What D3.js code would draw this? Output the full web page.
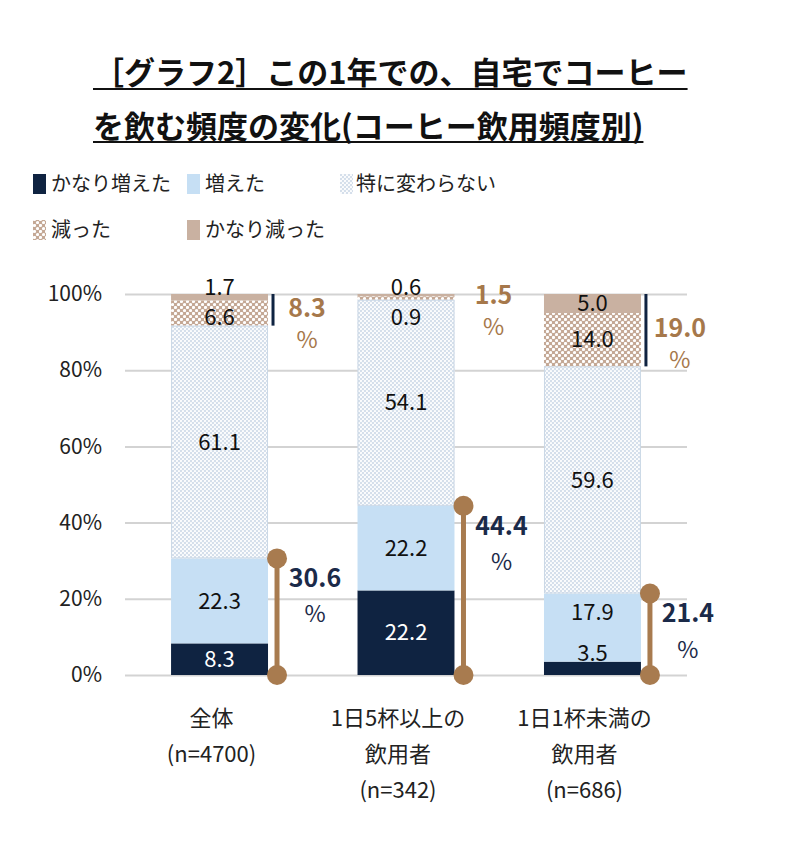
<!DOCTYPE html>
<html lang="ja">
<head>
<meta charset="utf-8">
<script src="https://cdnjs.cloudflare.com/ajax/libs/d3/7.8.5/d3.min.js"></script>
<style>
  body { margin: 0; background: #fff; }
  text { font-family: "Noto Sans CJK JP", "Noto Sans", sans-serif; }
</style>
</head>
<body>
<script>
// ---- data ----
var titleLines = ["［グラフ2］この1年での、自宅でコーヒー", "を飲む頻度の変化(コーヒー飲用頻度別)"]
var categories = ["全体", "1日5杯以上の飲用者", "1日1杯未満の飲用者"]
var categoryLines = [["全体", "(n=4700)"], ["1日5杯以上の", "飲用者", "(n=342)"], ["1日1杯未満の", "飲用者", "(n=686)"]]
var seriesNames = ["かなり増えた", "増えた", "特に変わらない", "減った", "かなり減った"]
var veryIncreased = [8.3, 22.2, 3.5]
var increased = [22.3, 22.2, 17.9]
var noChange = [61.1, 54.1, 59.6]
var decreased = [6.6, 0.9, 14.0]
var veryDecreased = [1.7, 0.6, 5.0]
var increaseTotal = [30.6, 44.4, 21.4]
var decreaseTotal = [8.3, 1.5, 19.0]
var yTicks = [0, 20, 40, 60, 80, 100]

// ---- style ----
var navy = "#0f2341"
var lightBlue = "#c6dff4"
var brown = "#a87b4f"
var brownText = "#a6784b"
var navyText = "#1b2a49"
var gridColor = "#d3d3d3"
var width = 788, height = 852

var table = categories.map((c, i) => ({
  cat: c,
  "かなり増えた": veryIncreased[i],
  "増えた": increased[i],
  "特に変わらない": noChange[i],
  "減った": decreased[i],
  "かなり減った": veryDecreased[i]
}))

var svg = d3.select("body").append("svg")
  .attr("width", width).attr("height", height)

// patterns
var defs = svg.append("defs")
var pNo = defs.append("pattern").attr("id", "pat-nochange")
  .attr("patternUnits", "userSpaceOnUse").attr("width", 4).attr("height", 4)
pNo.append("rect").attr("width", 4).attr("height", 4).attr("fill", "#d5dfeb")
pNo.append("circle").attr("cx", 1).attr("cy", 1).attr("r", 1.1).attr("fill", "#fff")
pNo.append("circle").attr("cx", 3).attr("cy", 3).attr("r", 1.1).attr("fill", "#fff")

var pDec = defs.append("pattern").attr("id", "pat-dec")
  .attr("patternUnits", "userSpaceOnUse").attr("width", 6).attr("height", 6)
pDec.append("rect").attr("width", 6).attr("height", 6).attr("fill", "#c4a895")
pDec.append("circle").attr("cx", 1.5).attr("cy", 1.5).attr("r", 1.6).attr("fill", "#fff")
pDec.append("circle").attr("cx", 4.5).attr("cy", 4.5).attr("r", 1.6).attr("fill", "#fff")

var fills = {
  "かなり増えた": navy,
  "増えた": lightBlue,
  "特に変わらない": "url(#pat-nochange)",
  "減った": "url(#pat-dec)",
  "かなり減った": "#c9b1a1"
}

// ---- title ----
var title = svg.append("g")
titleLines.forEach((t, i) => {
  var txt = title.append("text")
    .attr("x", 93).attr("y", 84 + i * 54)
    .attr("font-size", 31).attr("font-weight", "bold").attr("fill", "#111")
    .text(t)
  var w = txt.node().getComputedTextLength()
  title.append("line")
    .attr("x1", 93).attr("x2", 93 + w)
    .attr("y1", 89 + i * 53).attr("y2", 89 + i * 53)
    .attr("stroke", "#111").attr("stroke-width", 2)
})

// ---- legend ----
var legendPos = [[33, 184], [187, 184], [340, 184], [33, 230], [187, 230]]
var legend = svg.append("g")
seriesNames.forEach((s, i) => {
  var g = legend.append("g").attr("transform", `translate(${legendPos[i][0]},${legendPos[i][1]})`)
  g.append("rect").attr("x", 0).attr("y", -10).attr("width", 13).attr("height", 20)
    .attr("fill", fills[s])
  g.append("text").attr("x", i == 2 ? 16 : 18).attr("y", 0).attr("dy", "0.35em")
    .attr("font-size", 20).attr("fill", "#222").text(s)
})

// ---- scales ----
var y = d3.scaleLinear().domain([0, 100]).range([675, 294])
var x = d3.scaleBand().domain(categories).range([125, 687])
  .paddingInner(0.48).paddingOuter(0.247)

// grid + y axis
svg.append("g").attr("transform", "translate(125,0)")
  .call(d3.axisLeft(y).tickValues(yTicks).tickFormat(d => d + "%")
    .tickSizeInner(-562).tickSizeOuter(0).tickPadding(23))
  .call(g => g.select(".domain").remove())
  .call(g => g.selectAll(".tick line").attr("stroke", gridColor).attr("stroke-width", 2))
  .call(g => g.selectAll(".tick text").attr("font-size", 21).attr("fill", "#222")
    .attr("font-family", "'Noto Sans CJK JP', sans-serif"))

// ---- bars ----
var stack = d3.stack().keys(seriesNames)(table)

svg.append("g").selectAll("g")
  .data(stack).join("g")
  .attr("fill", d => fills[d.key])
  .selectAll("rect")
  .data(d => d).join("rect")
  .attr("x", d => x(d.data.cat))
  .attr("y", d => y(d[1]))
  .attr("width", x.bandwidth())
  .attr("height", d => y(d[0]) - y(d[1]))

// outline of 特に変わらない segments
svg.append("g").selectAll("rect")
  .data(stack[2]).join("rect")
  .attr("x", d => x(d.data.cat) + 0.5)
  .attr("y", d => y(d[1]) + 0.5)
  .attr("width", x.bandwidth() - 1)
  .attr("height", d => y(d[0]) - y(d[1]) - 1)
  .attr("fill", "none").attr("stroke", "#cbd8e6").attr("stroke-width", 1)

// ---- value labels ----
var labels = []
categories.forEach((c, i) => {
  var segs = stack.map(s => ({key: s.key, v: s[i][1] - s[i][0], y0: s[i][0], y1: s[i][1]}))
  var pos = segs.map(s => (y(s.y0) + y(s.y1)) / 2)
  var color = segs.map(s => s.key == "かなり増えた" ? "#fff" : "#111")
  // bottom segment too thin: label above it
  if (y(segs[0].y0) - y(segs[0].y1) < 20) { pos[0] = y(segs[0].y1) - 8; color[0] = "#111" }
  pos[1] = Math.min(pos[1], pos[0] - 41)
  // top segment too thin: label above bar
  if (y(segs[4].y0) - y(segs[4].y1) < 14) pos[4] = y(100) - 7
  pos[3] = Math.max(pos[3], pos[4] + 30)
  segs.forEach((s, k) => labels.push({cat: c, v: s.v, y: pos[k], color: color[k]}))
})

svg.append("g").selectAll("text")
  .data(labels).join("text")
  .attr("x", d => x(d.cat) + x.bandwidth() / 2)
  .attr("y", d => d.y).attr("dy", "0.35em")
  .attr("text-anchor", "middle").attr("font-size", 22)
  .attr("fill", d => d.color)
  .text(d => d.v.toFixed(1))

// ---- increase brackets ----
var inc = svg.append("g")
categories.forEach((c, i) => {
  var bx = x(c) + x.bandwidth() + 9
  inc.append("line").attr("x1", bx).attr("x2", bx)
    .attr("y1", y(increaseTotal[i])).attr("y2", y(0))
    .attr("stroke", brown).attr("stroke-width", 5)
  inc.selectAll(null).data([increaseTotal[i], 0]).join("circle")
    .attr("cx", bx).attr("cy", d => y(d)).attr("r", 10).attr("fill", brown)
  inc.append("text").attr("x", bx + 38).attr("y", y(increaseTotal[i]) + 20).attr("dy", "0.35em")
    .attr("text-anchor", "middle").attr("font-size", 25).attr("font-weight", "bold")
    .attr("fill", navyText).text(increaseTotal[i].toFixed(1))
  inc.append("text").attr("x", bx + 38).attr("y", y(increaseTotal[i]) + 56).attr("dy", "0.35em")
    .attr("text-anchor", "middle").attr("font-size", 23)
    .attr("fill", navyText).text("%")
})

// ---- decrease brackets ----
var dec = svg.append("g")
categories.forEach((c, i) => {
  var bx = x(c) + x.bandwidth() + 5
  var top = y(100), bottom = y(100 - decreaseTotal[i])
  if (decreaseTotal[i] >= 2) {
    dec.append("line").attr("x1", bx).attr("x2", bx)
      .attr("y1", top).attr("y2", bottom)
      .attr("stroke", navy).attr("stroke-width", 3)
  }
  var mid = (top + bottom) / 2
  dec.append("text").attr("x", bx + 34).attr("y", mid - 2).attr("dy", "0.35em")
    .attr("text-anchor", "middle").attr("font-size", 25).attr("font-weight", "bold")
    .attr("fill", brownText).text(decreaseTotal[i].toFixed(1))
  dec.append("text").attr("x", bx + 34).attr("y", mid + 30).attr("dy", "0.35em")
    .attr("text-anchor", "middle").attr("font-size", 23)
    .attr("fill", brownText).text("%")
})

// ---- category labels ----
svg.append("g").selectAll("text")
  .data(categories).join("text")
  .attr("text-anchor", "middle").attr("font-size", 22).attr("fill", "#222")
  .each(function (c, i) {
    d3.select(this).selectAll("tspan")
      .data(categoryLines[i]).join("tspan")
      .attr("x", x(c) + x.bandwidth() / 2 - 8)
      .attr("y", (d, k) => 718 + k * 36).attr("dy", "0.35em")
      .text(d => d)
  })
</script>
</body>
</html>
